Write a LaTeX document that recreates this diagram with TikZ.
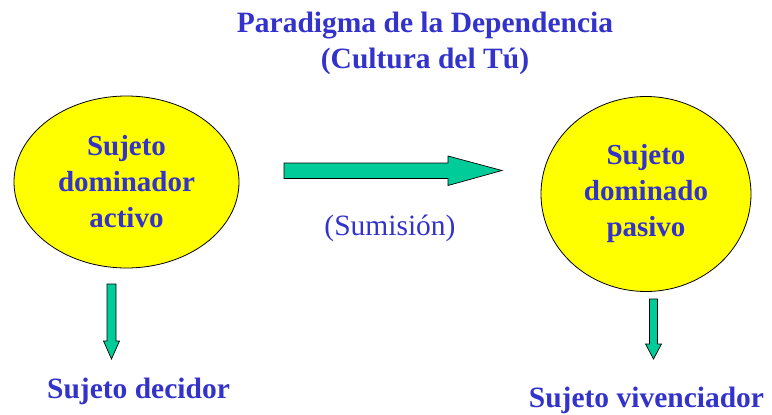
\documentclass[tikz,border=0pt]{standalone}
\usepackage{fontspec}
\setmainfont{Liberation Serif}
\definecolor{azul}{RGB}{51,51,204}
\definecolor{verde}{RGB}{0,204,153}
\definecolor{amarillo}{RGB}{255,255,0}
\tikzset{
  sujeto/.style={draw, ellipse, fill=amarillo, line width=0.8pt, inner sep=0pt,
    align=center, text=azul, font=\fontsize{29}{36}\selectfont\bfseries},
  etiqueta/.style={anchor=base, inner sep=0pt, text=azul,
    font=\fontsize{29.5}{36}\selectfont\bfseries},
  flecha/.style={fill=verde, draw=black, line width=0.7pt, line join=miter}
}
\usetikzlibrary{shapes.geometric}

\begin{document}
\begin{tikzpicture}[x=1pt, y=-1pt]
\useasboundingbox (0,0) rectangle (772,415);
% Title
\node[etiqueta] (titulo) at (425,32) {Paradigma de la Dependencia};
\node[etiqueta] (subtitulo) at (425,68) {(Cultura del Tú)};

% Subjects
\node[sujeto, minimum width=225pt, minimum height=172pt] (dominador) at (126.5,182) {Sujeto\\dominador\\activo};
\node[sujeto, minimum width=210pt, minimum height=195pt] (dominado) at (646,194) {Sujeto\\dominado\\pasivo};

\node[anchor=base, inner sep=0pt, text=azul, font=\fontsize{29.5}{36}\selectfont] (sumision) at (390,235) {(Sumisión)};
\node[etiqueta] (decidor) at (138.5,398) {Sujeto decidor};
\node[etiqueta] (vivenciador) at (646.5,407) {Sujeto vivenciador};

% Arrows
\coordinate (s1) at (284,170.5);
\coordinate (p1) at (502,170.5);
\filldraw[flecha] (s1) ++(0,-7.5) -- ++(164,0) -- ++(0,-7) -- (p1) -- ++(-54,15) -- ++(0,-7) -- ++(-164,0) -- cycle;

\coordinate (s2) at (111.5,284);
\coordinate (p2) at (111.5,359);
\filldraw[flecha] (s2) ++(-4.5,0) -- ++(0,57) -- ++(-3.5,0) -- (p2) -- ++(8,-18) -- ++(-3.5,0) -- ++(0,-57) -- cycle;

\coordinate (s3) at (653.5,299);
\coordinate (p3) at (653.5,359);
\filldraw[flecha] (s3) ++(-4,0) -- ++(0,45) -- ++(-4,0) -- (p3) -- ++(8,-15) -- ++(-4,0) -- ++(0,-45) -- cycle;

\end{tikzpicture}
\end{document}
